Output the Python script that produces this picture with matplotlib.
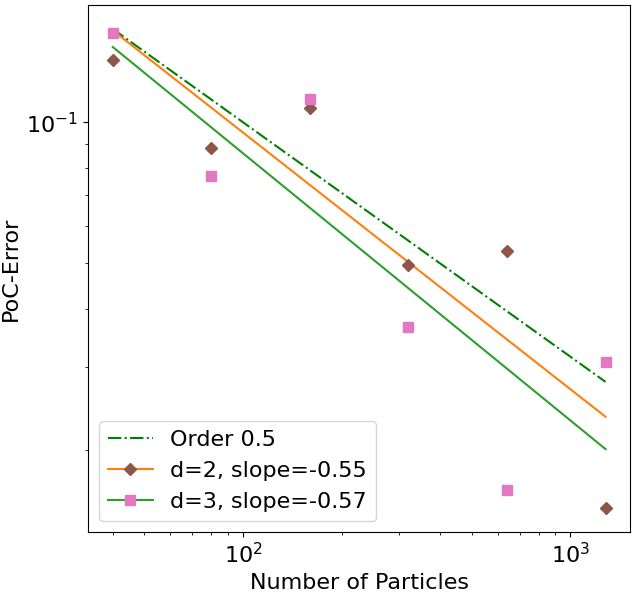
import numpy as np
import matplotlib
matplotlib.use("Agg")
import matplotlib.pyplot as plt
from matplotlib.legend_handler import HandlerTuple

particles = [40, 80, 160, 320, 640, 1280]
err_d2 = [0.1355, 0.0880, 0.1071, 0.0496, 0.0531, 0.01503]
err_d3 = [0.1549, 0.0767, 0.1120, 0.0366, 0.0164, 0.0308]
order_label = "Order 0.5"
label_d2 = "d=2, slope=-0.55"
label_d3 = "d=3, slope=-0.57"

N = np.array(particles, dtype=float)
p2 = np.polyfit(np.log10(N), np.log10(err_d2), 1)
p3 = np.polyfit(np.log10(N), np.log10(err_d3), 1)
fit2 = 10 ** np.polyval(p2, np.log10(N))
fit3 = 10 ** np.polyval(p3, np.log10(N))
ref = N ** -0.5

fig = plt.figure(figsize=(6.34, 5.92), dpi=100)
ax = fig.add_axes([0.139, 0.101, 0.855, 0.8905])

l0, = ax.loglog(N, ref, '-.', color='green')
l2, = ax.loglog(N, fit2, '-', color='C1')
m2, = ax.loglog(N, err_d2, 'D', color='C5', linestyle='none', markersize=6.5)
l3, = ax.loglog(N, fit3, '-', color='C2')
m3, = ax.loglog(N, err_d3, 's', color='C6', linestyle='none', markersize=6.5)

ax.set_xlabel("Number of Particles", fontsize=16)
ax.set_ylabel("PoC-Error", fontsize=16)
ax.tick_params(axis='both', which='major', labelsize=16)

ax.legend([l0, (l2, m2), (l3, m3)], [order_label, label_d2, label_d3],
          handler_map={tuple: HandlerTuple(ndivide=1, pad=0)},
          fontsize=16, loc='lower left')

fig.savefig("out.png", dpi=100)
